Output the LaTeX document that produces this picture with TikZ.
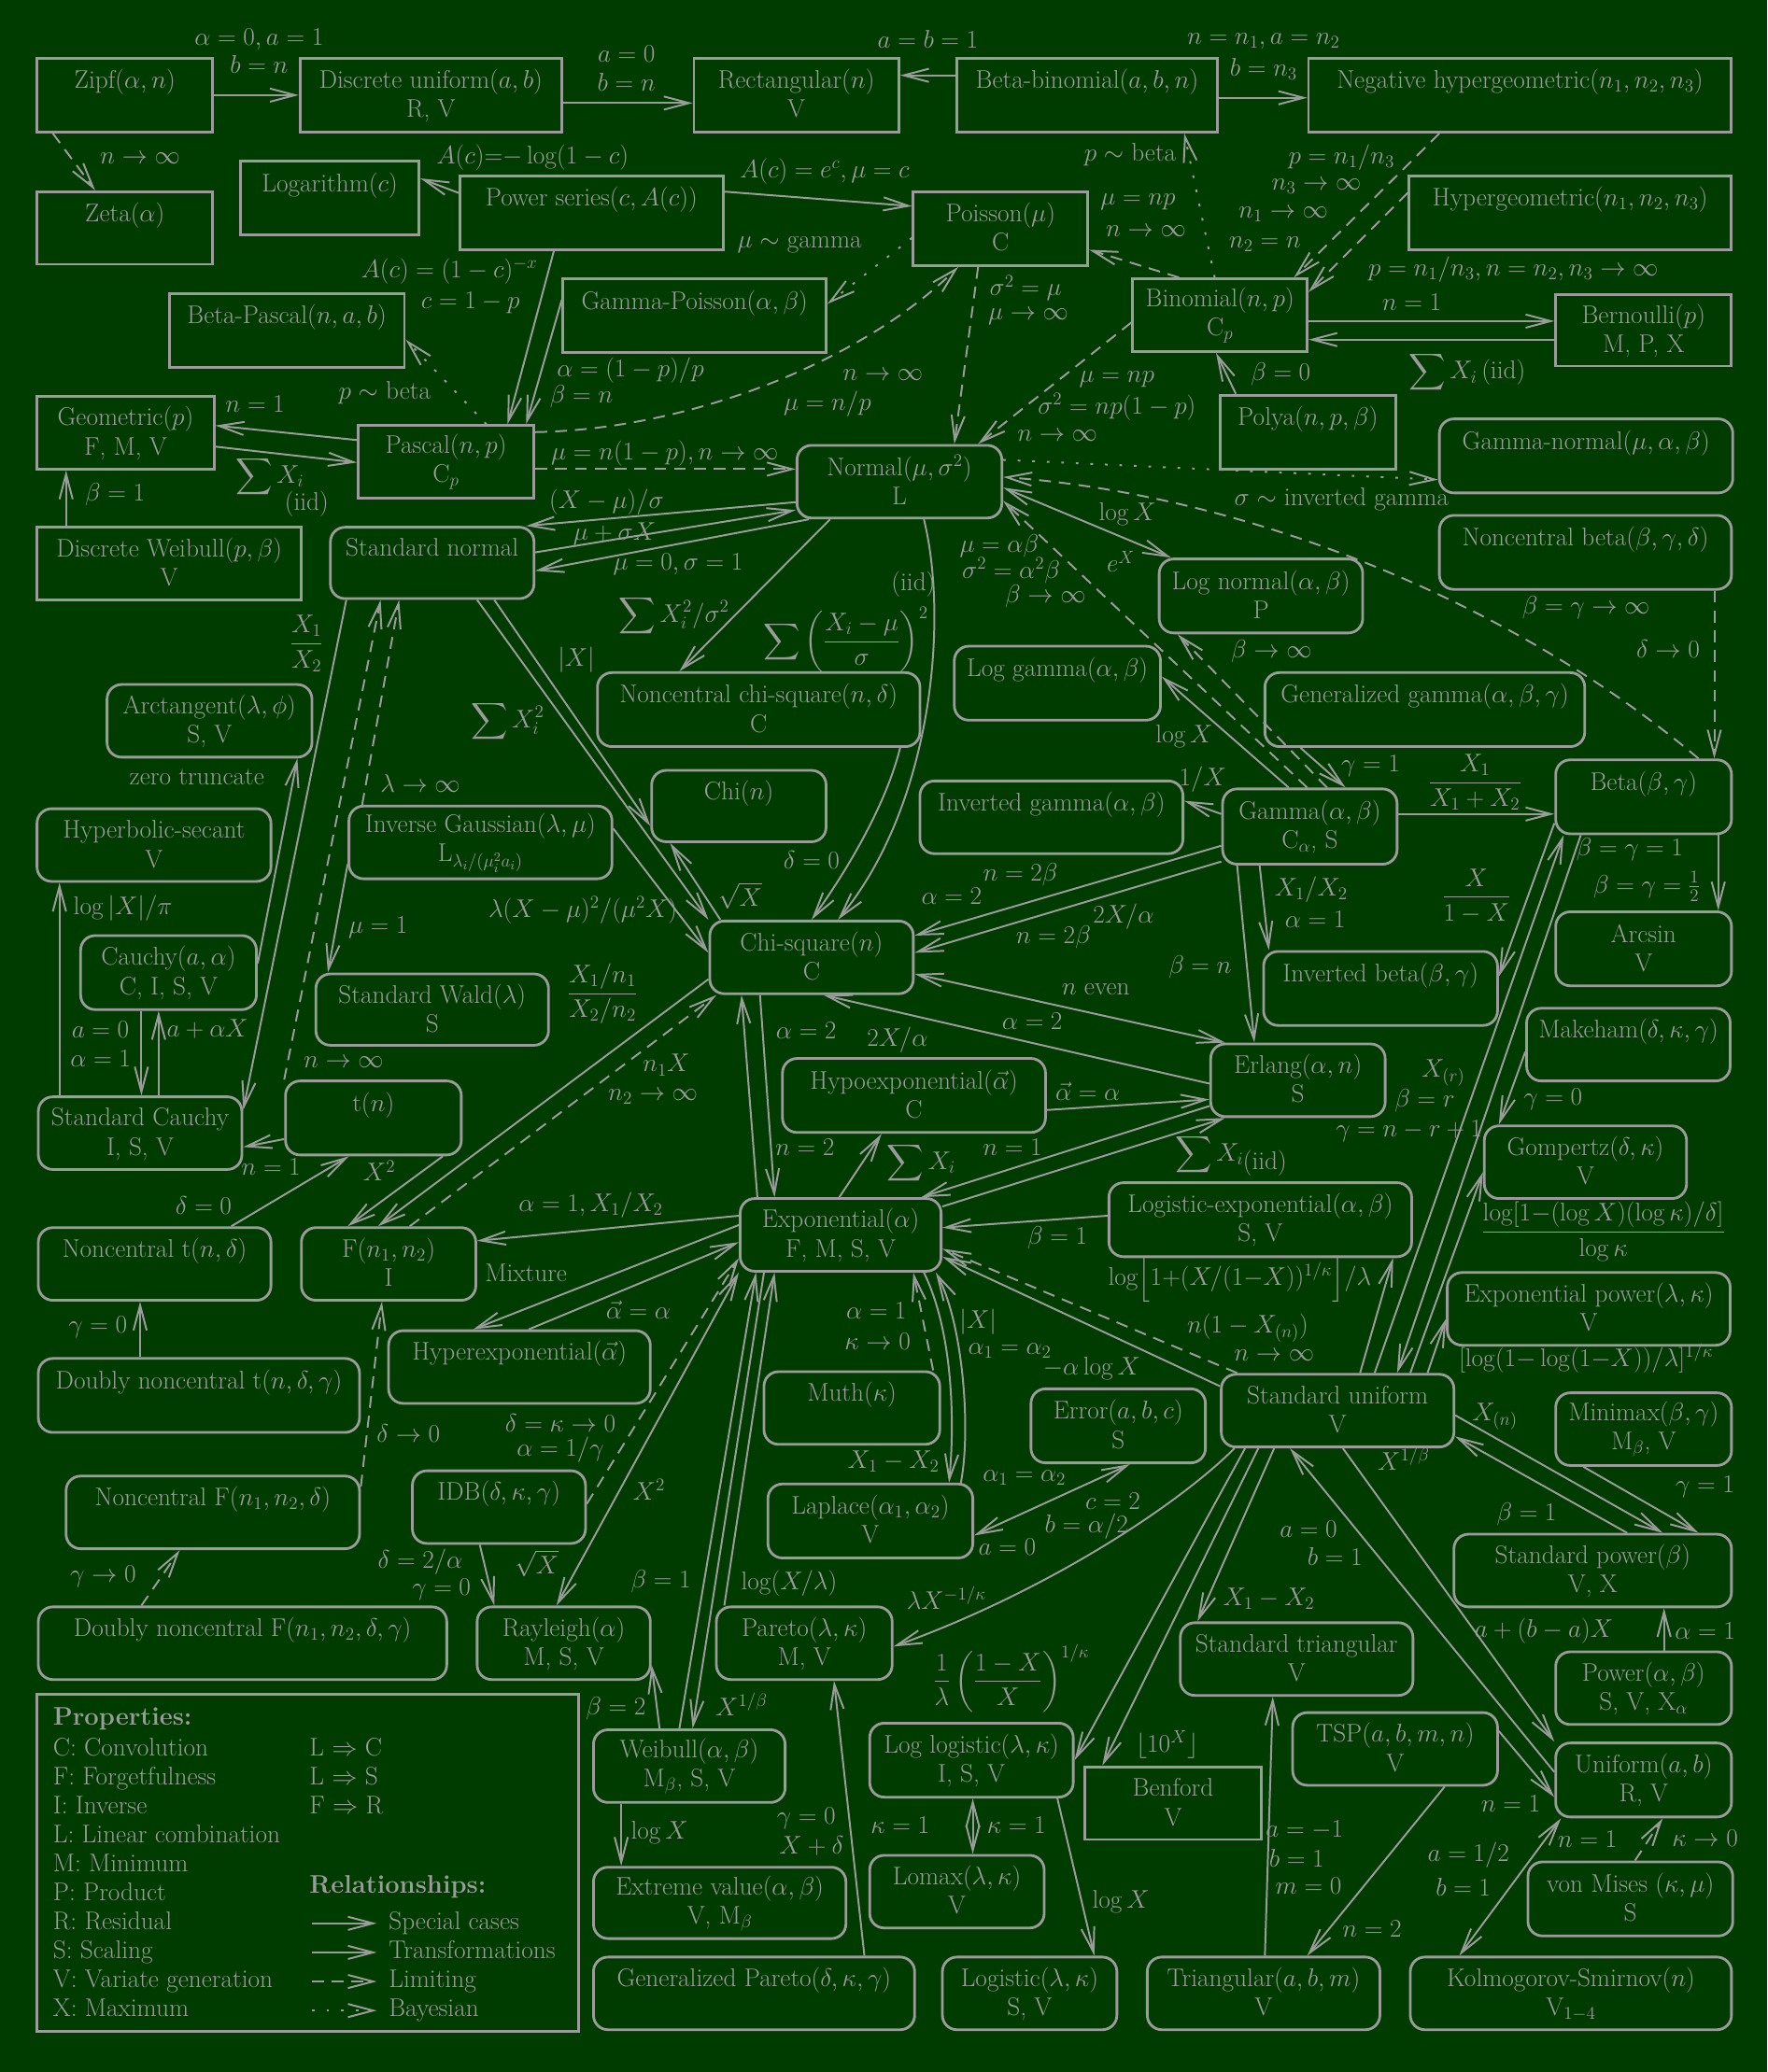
\documentclass[tikz,border=0pt]{standalone}
\usepackage{fix-cm}
\usepackage{amsmath,amssymb}
\usetikzlibrary{arrows.meta}
\definecolor{bg}{RGB}{0,60,0}
\definecolor{fg}{RGB}{155,155,155}
\newcommand\myfs{\fontsize{19.3}{22}\selectfont}
\newcommand\mkbox[8]{\node[#1, minimum width={(#5)-(#3)}, minimum height={(#6)-(#4)}] (#2) at ({((#3)+(#5))/2},{((#4)+(#6))/2}) {\rule{0pt}{15pt}#7\\#8\rule[-3pt]{0pt}{3pt}};}
\begin{document}
\begin{tikzpicture}[x=1pt,y=-1pt,font=\myfs,
  dbox/.style={draw=fg, line width=2pt, inner xsep=0pt, inner ysep=0pt, align=center, text=fg},
  cbox/.style={dbox, rounded corners=11pt},
  lab/.style={inner sep=0pt, text=fg},
  con/.style={draw=fg, line width=1.4pt, -{Straight Barb[length=19pt,width=10pt]}},
  bicon/.style={draw=fg, line width=1.4pt, {Straight Barb[length=19pt,width=10pt]}-{Straight Barb[length=19pt,width=10pt]}},
  lim/.style={con, dash pattern=on 9pt off 6pt},
  bay/.style={con, dash pattern=on 2pt off 9pt}]
\fill[bg] (0,0) rectangle (1337,1568);
\useasboundingbox (0,0) rectangle (1337,1568);
% ---------- discrete (sharp) boxes
\mkbox{dbox}{zipf}{28}{44}{161}{100}{Zipf$(\alpha,n)$}{}
\mkbox{dbox}{dunif}{227}{44}{425}{100}{Discrete uniform$(a,b)$}{R, V}
\mkbox{dbox}{rect}{525}{44}{680}{100}{Rectangular$(n)$}{V}
\mkbox{dbox}{betabin}{724}{44}{921}{100}{Beta-binomial$(a,b,n)$}{}
\mkbox{dbox}{neghyp}{990}{44}{1310}{100}{Negative hypergeometric$(n_1,n_2,n_3)$}{}
\mkbox{dbox}{zeta}{28}{145}{161}{200}{Zeta$(\alpha)$}{}
\mkbox{dbox}{logar}{182}{122}{317}{178}{Logarithm$(c)$}{}
\mkbox{dbox}{powser}{348}{133}{547}{189}{Power series$(c,A(c))$}{}
\mkbox{dbox}{poisson}{691}{145}{823}{201}{Poisson$(\mu)$}{C}
\mkbox{dbox}{hyper}{1066}{133}{1310}{189}{Hypergeometric$(n_1,n_2,n_3)$}{}
\mkbox{dbox}{betapascal}{128}{222}{306}{278}{Beta-Pascal$(n,a,b)$}{}
\mkbox{dbox}{gampois}{426}{211}{625}{267}{Gamma-Poisson$(\alpha,\beta)$}{}
\mkbox{dbox}{binom}{857}{211}{989}{266}{Binomial$(n,p)$}{C$_p$}
\mkbox{dbox}{bern}{1177}{223}{1310}{277}{Bernoulli$(p)$}{M, P, X}
\mkbox{dbox}{geom}{28}{300}{162}{355}{Geometric$(p)$}{F, M, V}
\mkbox{dbox}{pascal}{271}{322}{404}{377}{Pascal$(n,p)$}{C$_p$}
\mkbox{dbox}{polya}{923}{299}{1056}{355}{Polya$(n,p,\beta)$}{}
\mkbox{dbox}{dweib}{28}{399}{228}{454}{Discrete Weibull$(p,\beta)$}{V}
\mkbox{dbox}{benford}{821}{1337}{954}{1392}{Benford}{V}
% ---------- continuous (rounded) boxes
\mkbox{cbox}{gamnorm}{1089}{317}{1311}{373}{Gamma-normal$(\mu,\alpha,\beta)$}{}
\mkbox{cbox}{stdnorm}{250}{399}{404}{453}{Standard normal}{}
\mkbox{cbox}{normal}{603}{337}{758}{392}{Normal$(\mu,\sigma^2)$}{L}
\mkbox{cbox}{ncbeta}{1089}{390}{1310}{446}{Noncentral beta$(\beta,\gamma,\delta)$}{}
\mkbox{cbox}{lognorm}{877}{423}{1031}{479}{Log normal$(\alpha,\beta)$}{P}
\mkbox{cbox}{arctan}{81}{518}{236}{573}{Arctangent$(\lambda,\phi)$}{S, V}
\mkbox{cbox}{ncchisq}{452}{509}{696}{565}{Noncentral chi-square$(n,\delta)$}{C}
\mkbox{cbox}{loggam}{722}{489}{878}{545}{Log gamma$(\alpha,\beta)$}{}
\mkbox{cbox}{gengam}{957}{509}{1199}{565}{Generalized gamma$(\alpha,\beta,\gamma)$}{}
\mkbox{cbox}{hypsec}{28}{612}{205}{667}{Hyperbolic-secant}{V}
\mkbox{cbox}{invgauss}{264}{610}{463}{665}{Inverse Gaussian$(\lambda,\mu)$}{L$_{\lambda_i/(\mu_i^2 a_i)}$}
\mkbox{cbox}{chi}{493}{583}{625}{637}{Chi$(n)$}{}
\mkbox{cbox}{invgam}{696}{591}{895}{646}{Inverted gamma$(\alpha,\beta)$}{}
\mkbox{cbox}{gamma}{925}{597}{1057}{654}{Gamma$(\alpha,\beta)$}{C$_\alpha$, S}
\mkbox{cbox}{beta}{1177}{575}{1310}{631}{Beta$(\beta,\gamma)$}{}
\mkbox{cbox}{cauchy}{61}{708}{194}{764}{Cauchy$(a,\alpha)$}{C, I, S, V}
\mkbox{cbox}{stdwald}{239}{737}{415}{791}{Standard Wald$(\lambda)$}{S}
\mkbox{cbox}{chisq}{537}{697}{691}{752}{Chi-square$(n)$}{C}
\mkbox{cbox}{invbeta}{956}{720}{1133}{776}{Inverted beta$(\beta,\gamma)$}{}
\mkbox{cbox}{arcsin}{1177}{690}{1310}{746}{Arcsin}{V}
\mkbox{cbox}{makeham}{1155}{763}{1309}{818}{Makeham$(\delta,\kappa,\gamma)$}{}
\mkbox{cbox}{stdcauchy}{29}{830}{183}{885}{Standard Cauchy}{I, S, V}
\mkbox{cbox}{tdist}{216}{818}{349}{874}{t$(n)$}{}
\mkbox{cbox}{hypoexp}{592}{801}{791}{857}{Hypoexponential$(\vec{\alpha})$}{C}
\mkbox{cbox}{erlang}{916}{790}{1048}{845}{Erlang$(\alpha,n)$}{S}
\mkbox{cbox}{gompertz}{1123}{852}{1276}{907}{Gompertz$(\delta,\kappa)$}{V}
\mkbox{cbox}{nct}{29}{929}{205}{984}{Noncentral t$(n,\delta)$}{}
\mkbox{cbox}{fdist}{228}{929}{360}{984}{F$(n_1,n_2)$}{I}
\mkbox{cbox}{expo}{560}{907}{712}{962}{Exponential$(\alpha)$}{F, M, S, V}
\mkbox{cbox}{logexp}{839}{895}{1068}{951}{Logistic-exponential$(\alpha,\beta)$}{S, V}
\mkbox{cbox}{dnct}{29}{1028}{272}{1084}{Doubly noncentral t$(n,\delta,\gamma)$}{}
\mkbox{cbox}{hyperexp}{294}{1007}{492}{1062}{Hyperexponential$(\vec{\alpha})$}{}
\mkbox{cbox}{muth}{578}{1038}{711}{1093}{Muth$(\kappa)$}{}
\mkbox{cbox}{error}{780}{1051}{912}{1107}{Error$(a,b,c)$}{S}
\mkbox{cbox}{exppow}{1095}{963}{1309}{1018}{Exponential power$(\lambda,\kappa)$}{V}
\mkbox{cbox}{stdunif}{924}{1040}{1100}{1095}{Standard uniform}{V}
\mkbox{cbox}{minimax}{1177}{1054}{1310}{1109}{Minimax$(\beta,\gamma)$}{M$_\beta$, V}
\mkbox{cbox}{ncf}{50}{1117}{272}{1172}{Noncentral F$(n_1,n_2,\delta)$}{}
\mkbox{cbox}{idb}{312}{1113}{443}{1168}{IDB$(\delta,\kappa,\gamma)$}{}
\mkbox{cbox}{laplace}{581}{1123}{736}{1179}{Laplace$(\alpha_1,\alpha_2)$}{V}
\mkbox{cbox}{stdpow}{1100}{1161}{1310}{1216}{Standard power$(\beta)$}{V, X}
\mkbox{cbox}{dncf}{29}{1216}{338}{1271}{Doubly noncentral F$(n_1,n_2,\delta,\gamma)$}{}
\mkbox{cbox}{rayleigh}{361}{1216}{492}{1271}{Rayleigh$(\alpha)$}{M, S, V}
\mkbox{cbox}{pareto}{542}{1216}{675}{1271}{Pareto$(\lambda,\kappa)$}{M, V}
\mkbox{cbox}{stdtri}{893}{1228}{1069}{1283}{Standard triangular}{V}
\mkbox{cbox}{power}{1177}{1250}{1310}{1305}{Power$(\alpha,\beta)$}{S, V, X$_\alpha$}
\mkbox{cbox}{weibull}{449}{1309}{594}{1364}{Weibull$(\alpha,\beta)$}{M$_\beta$, S, V}
\mkbox{cbox}{loglog}{658}{1304}{812}{1360}{Log logistic$(\lambda,\kappa)$}{I, S, V}
\mkbox{cbox}{tsp}{978}{1296}{1133}{1351}{TSP$(a,b,m,n)$}{V}
\mkbox{cbox}{unif}{1177}{1319}{1310}{1375}{Uniform$(a,b)$}{R, V}
\mkbox{cbox}{extval}{449}{1413}{640}{1467}{Extreme value$(\alpha,\beta)$}{V, M$_\beta$}
\mkbox{cbox}{lomax}{658}{1404}{790}{1459}{Lomax$(\lambda,\kappa)$}{V}
\mkbox{cbox}{vonmises}{1156}{1409}{1311}{1465}{von Mises $(\kappa,\mu)$}{S}
\mkbox{cbox}{genpareto}{449}{1481}{692}{1536}{Generalized Pareto$(\delta,\kappa,\gamma)$}{}
\mkbox{cbox}{logistic}{713}{1481}{845}{1536}{Logistic$(\lambda,\kappa)$}{S, V}
\mkbox{cbox}{triang}{868}{1481}{1044}{1536}{Triangular$(a,b,m)$}{V}
\mkbox{cbox}{ks}{1067}{1481}{1310}{1536}{Kolmogorov-Smirnov$(n)$}{V$_{1-4}$}
% ---------- connectors
\draw[con] (zipf.east |- 0,72) -- (dunif.west |- 0,72);
\draw[con] (dunif.east |- 0,78) -- (rect.west |- 0,78);
\draw[con] (betabin.west |- 0,57) -- (rect.east |- 0,57);
\draw[con] (betabin.east |- 0,74) -- (neghyp.west |- 0,74);
\draw[lim] (zipf.south -| 40,0) -- (zeta.north -| 72,0);
\draw[con] (powser.west |- 0,146) -- (logar.east |- 0,135);
\draw[con] (powser.east |- 0,145) -- (poisson.west |- 0,156);
\draw[con] (powser.south -| 419,0) -- (pascal.north -| 384,0);
\draw[con] (gampois.west |- 0,227) -- (pascal.north -| 398,0);
\draw[bay] (poisson.west |- 0,180) -- (gampois.east |- 0,230);
\draw[lim] (pascal.east |- 0,327) .. controls (520,325) and (650,275) .. (poisson.south -| 725,0);
\draw[lim] (pascal.east |- 0,355) -- (normal.west |- 0,355);
\draw[con] (pascal.west |- 0,333) -- (geom.east |- 0,322);
\draw[con] (geom.east |- 0,338) -- (pascal.west |- 0,350);
\draw[bay] (pascal.north -| 368,0) -- (betapascal.east |- 0,257);
\draw[con] (dweib.north -| 50,0) -- (geom.south -| 50,0);
\draw[lim] (binom.north -| 892,0) -- (poisson.east |- 0,189);
\draw[bay] (binom.north -| 919,0) -- (betabin.south -| 896,0);
\draw[lim] (neghyp.south -| 1089,0) -- (binom.north -| 979,0);
\draw[lim] (hyper.west |- 0,146) -- (binom.east |- 0,221);
\draw[con] (binom.east |- 0,243) -- (bern.west |- 0,243);
\draw[con] (bern.west |- 0,257) -- (binom.east |- 0,257);
\draw[con] (polya.north -| 935,0) -- (binom.south -| 920,0);
\draw[lim] (binom.west |- 0,244) -- (normal.north -| 740,0);
\draw[lim] (poisson.south -| 740,0) -- (normal.north -| 722,0);
\draw[bay] (normal.east |- 0,348) -- (gamnorm.west |- 0,363);
\draw[lim] (beta.north -| 1285,0) .. controls (1150,460) and (950,375) .. (normal.east |- 0,361);
\draw[lim] (ncbeta.south -| 1297,0) -- (beta.north -| 1297,0);
\draw[bicon] (normal.east |- 0,369) -- (lognorm.north -| 886,0);
\draw[lim] (gamma.north -| 989,0) -- (normal.east |- 0,379);
\draw[lim] (gamma.north -| 1004,0) -- (lognorm.south -| 891,0);
\draw[con] (gamma.north -| 975,0) -- (loggam.east |- 0,512);
\draw[con] (gengam.south -| 984,0) -- (gamma.north -| 1018,0);
\draw[con] (gamma.west |- 0,616) -- (invgam.east |- 0,606);
\draw[con] (gamma.east |- 0,616) -- (beta.west |- 0,616);
\draw[con] (beta.south -| 1300,0) -- (arcsin.north -| 1300,0);
\draw[con] (gamma.south -| 953,0) -- (invbeta.north -| 960,0);
\draw[con] (beta.west |- 0,623) -- (invbeta.east |- 0,739);
\draw[con] (gamma.south -| 936,0) -- (erlang.north -| 949,0);
\draw[con] (gamma.west |- 0,640) -- (chisq.east |- 0,708);
\draw[con] (gamma.west |- 0,652) -- (chisq.east |- 0,721);
\draw[bicon] (chisq.east |- 0,737) -- (erlang.north -| 927,0);
\draw[con] (erlang.west |- 0,820) -- (chisq.south -| 623,0);
\draw[con] (hypoexp.east |- 0,840) -- (erlang.west |- 0,832);
\draw[con] (erlang.west |- 0,837) -- (expo.north -| 697,0);
\draw[con] (expo.east |- 0,913) -- (erlang.south -| 927,0);
\draw[con] (expo.north -| 635,0) -- (hypoexp.south -| 667,0);
\draw[con] (expo.north -| 573,0) -- (chisq.south -| 561,0);
\draw[con] (chisq.south -| 575,0) -- (expo.north -| 586,0);
\draw[con] (expo.west |- 0,920) -- (fdist.east |- 0,939);
\draw[con] (expo.west |- 0,927) -- (hyperexp.north -| 358,0);
\draw[con] (hyperexp.north -| 400,0) -- (expo.west |- 0,940);
\draw[lim] (idb.east |- 0,1138) -- (expo.west |- 0,952);
\draw[bicon] (rayleigh.north -| 421,0) -- (expo.south west);
\draw[con] (weibull.north -| 514,0) -- (expo.south -| 572,0);
\draw[con] (expo.south -| 578,0) -- (weibull.north -| 524,0);
\draw[con] (pareto.north -| 548,0) -- (expo.south -| 586,0);
\draw[lim] (muth.north -| 706,0) -- (expo.south -| 691,0);
\draw[con] (expo.south -| 699,0) .. controls (722,1010) and (722,1080) .. (laplace.north -| 718,0);
\draw[con] (laplace.north -| 727,0) .. controls (735,1080) and (728,1000) .. (expo.south -| 708,0);
\draw[bicon] (error.south -| 855,0) -- (laplace.east |- 0,1162);
\draw[con] (stdunif.west |- 0,1049) -- (expo.east |- 0,951);
\draw[lim] (stdunif.north -| 936,0) -- (expo.east |- 0,945);
\draw[con] (logexp.west |- 0,920) -- (expo.east |- 0,929);
\draw[con] (stdunif.north -| 1029,0) -- (logexp.south -| 1054,0);
\draw[con] (stdunif.north -| 1040,0) -- (beta.south -| 1183,0);
\draw[con] (beta.south -| 1196,0) -- (stdunif.north -| 1057,0);
\draw[con] (makeham.west |- 0,796) -- (gompertz.north -| 1134,0);
\draw[con] (stdunif.north -| 1067,0) -- (gompertz.west |- 0,887);
\draw[con] (stdunif.north -| 1080,0) -- (exppow.west |- 0,998);
\draw[con] (stdunif.east |- 0,1071) -- (stdpow.north -| 1258,0);
\draw[con] (stdpow.north -| 1231,0) -- (stdunif.east |- 0,1087);
\draw[con] (minimax.south -| 1198,0) -- (stdpow.north -| 1285,0);
\draw[con] (power.north -| 1259,0) -- (stdpow.south -| 1259,0);
\draw[con] (stdunif.south -| 1016,0) -- (unif.north west);
\draw[con] (unif.west |- 0,1341) -- (stdunif.south -| 976,0);
\draw[con] (tsp.east |- 0,1310) -- (unif.west |- 0,1360);
\draw[con] (tsp.south -| 1093,0) -- (triang.north -| 989,0);
\draw[con] (triang.north -| 957,0) -- (stdtri.south -| 963,0);
\draw[con] (stdunif.south -| 964,0) -- (stdtri.north -| 906,0);
\draw[con] (stdunif.south -| 942,0) -- (loglog.east |- 0,1332);
\draw[con] (stdunif.south -| 952,0) -- (benford.north -| 834,0);
\draw[con] (stdunif.south -| 934,0) .. controls (890,1140) and (790,1205) .. (pareto.east |- 0,1246);
\draw[bicon] (loglog.south -| 736,0) -- (lomax.north -| 736,0);
\draw[con] (loglog.south -| 800,0) -- (logistic.north -| 828,0);
\draw[con] (weibull.south -| 470,0) -- (extval.north -| 470,0);
\draw[con] (weibull.north -| 499,0) -- (rayleigh.east |- 0,1260);
\draw[con] (genpareto.north -| 654,0) -- (pareto.south -| 631,0);
\draw[con] (idb.south -| 363,0) -- (rayleigh.north -| 374,0);
\draw[lim] (ncf.east |- 0,1125) -- (fdist.south -| 289,0);
\draw[lim] (dncf.north -| 107,0) -- (ncf.south -| 136,0);
\draw[con] (dnct.north -| 106,0) -- (nct.south -| 106,0);
\draw[con] (nct.north -| 175,0) -- (tdist.south -| 264,0);
\draw[con] (tdist.west |- 0,862) -- (stdcauchy.east |- 0,868);
\draw[con] (tdist.south -| 335,0) -- (fdist.north -| 263,0);
\draw[con] (chisq.west |- 0,741) -- (fdist.north -| 286,0);
\draw[lim] (fdist.north -| 310,0) -- (chisq.south -| 542,0);
\draw[con] (normal.south -| 699,0) .. controls (718,470) and (705,610) .. (chisq.north -| 634,0);
\draw[con] (ncchisq.south -| 681,0) .. controls (670,610) and (640,660) .. (chisq.north -| 614,0);
\draw[con] (normal.south -| 628,0) -- (ncchisq.north -| 514,0);
\draw[con] (stdnorm.south -| 374,0) -- (chi.west |- 0,625);
\draw[con] (stdnorm.south -| 361,0) -- (chisq.north west);
\draw[con] (chisq.north -| 545,0) -- (chi.south -| 507,0);
\draw[con] (normal.west |- 0,380) -- (stdnorm.north -| 398,0);
\draw[con] (stdnorm.east |- 0,418) -- (normal.west |- 0,386);
\draw[con] (normal.south -| 612,0) -- (stdnorm.east |- 0,432);
\draw[con] (stdnorm.south -| 262,0) -- (stdcauchy.east |- 0,840);
\draw[con] (cauchy.east |- 0,729) -- (arctan.south -| 225,0);
\draw[con] (stdcauchy.north -| 45,0) -- (hypsec.south -| 45,0);
\draw[con] (cauchy.south -| 107,0) -- (stdcauchy.north -| 107,0);
\draw[con] (stdcauchy.north -| 120,0) -- (cauchy.south -| 120,0);
\draw[lim] (tdist.north west) -- (stdnorm.south -| 288,0);
\draw[lim] (invgauss.north -| 274,0) -- (stdnorm.south -| 302,0);
\draw[con] (invgauss.west |- 0,654) -- (stdwald.north -| 248,0);
\draw[con] (invgauss.east |- 0,627) -- (chisq.west |- 0,721);
\draw[bicon] (ks.north -| 1104,0) -- (unif.south -| 1181,0);
\draw[lim] (vonmises.north -| 1237,0) -- (unif.south -| 1258,0);
% ---------- labels
\node[lab] (l1) at (196,30) {$\alpha=0, a=1$};
\node[lab] (l2) at (196,49) {$b=n$};
\node[lab] (l3) at (474,41) {$a=0$};
\node[lab] (l4) at (474,62) {$b=n$};
\node[lab] (l5) at (702,30) {$a=b=1$};
\node[lab] (l6) at (956,31) {$n=n_1, a=n_2$};
\node[lab] (l7) at (956,52) {$b=n_3$};
\node[lab] (l8) at (106,120) {$n\to\infty$};
\node[lab] (l9) at (403,119) {$A(c){=}{-}\log(1-c)$};
\node[lab] (l10) at (624,130) {$A(c)=e^c,\mu=c$};
\node[lab] (l11) at (340,205) {$A(c)=(1-c)^{-x}$};
\node[lab] (l12) at (356,229) {$c=1-p$};
\node[lab] (l13) at (477,280) {$\alpha=(1-p)/p$};
\node[lab] (l14) at (440,300) {$\beta=n$};
\node[lab] (l15) at (605,185) {$\mu\sim$ gamma};
\node[lab] (l16) at (668,284) {$n\to\infty$};
\node[lab] (l17) at (626,306) {$\mu=n/p$};
\node[lab] (l18) at (503,343) {$\mu=n(1-p), n\to\infty$};
\node[lab] (l19) at (193,306) {$n=1$};
\node[lab] (l20) at (204,361) {$\displaystyle\sum X_i$};
\node[lab] (l21) at (232,381) {(iid)};
\node[lab] (l22) at (291,297) {$p\sim$ beta};
\node[lab] (l23) at (87,374) {$\beta=1$};
\node[lab] (l24) at (861,153) {$\mu=np$};
\node[lab] (l25) at (867,175) {$n\to\infty$};
\node[lab] (l26) at (855,117) {$p\sim$ beta};
\node[lab] (l27) at (1015,119) {$p=n_1/n_3$};
\node[lab] (l28) at (996,141) {$n_3\to\infty$};
\node[lab] (l29) at (971,162) {$n_1\to\infty$};
\node[lab] (l30) at (957,185) {$n_2=n$};
\node[lab] (l31) at (1145,204) {$p=n_1/n_3, n=n_2, n_3\to\infty$};
\node[lab] (l32) at (1068,229) {$n=1$};
\node[lab] (l33) at (1110,282) {$\displaystyle\sum X_i\,$(iid)};
\node[lab] (l34) at (969,283) {$\beta=0$};
\node[lab] (l35) at (845,287) {$\mu=np$};
\node[lab] (l36) at (845,308) {$\sigma^2=np(1-p)$};
\node[lab] (l37) at (800,330) {$n\to\infty$};
\node[lab] (l38) at (776,218) {$\sigma^2=\mu$};
\node[lab] (l39) at (778,240) {$\mu\to\infty$};
\node[lab] (l40) at (1015,378) {$\sigma\sim$ inverted gamma};
\node[lab] (l41) at (1200,460) {$\beta=\gamma\to\infty$};
\node[lab] (l42) at (1262,491) {$\delta\to0$};
\node[lab] (l43) at (853,389) {$\log X$};
\node[lab] (l44) at (848,425) {$e^X$};
\node[lab] (l45) at (756,413) {$\mu=\alpha\beta$};
\node[lab] (l46) at (765,432) {$\sigma^2=\alpha^2\beta$};
\node[lab] (l47) at (791,451) {$\beta\to\infty$};
\node[lab] (l48) at (962,493) {$\beta\to\infty$};
\node[lab] (l49) at (896,557) {$\log X$};
\node[lab] (l50) at (1037,580) {$\gamma=1$};
\node[lab] (l51) at (910,590) {$1/X$};
\node[lab] (l52) at (1116,592) {$\dfrac{X_1}{X_1+X_2}$};
\node[lab] (l53) at (1233,643) {$\beta=\gamma=1$};
\node[lab] (l54) at (1246,671) {$\beta=\gamma=\frac12$};
\node[lab] (l55) at (992,673) {$X_1/X_2$};
\node[lab] (l56) at (995,696) {$\alpha=1$};
\node[lab] (l57) at (1117,678) {$\dfrac{X}{1-X}$};
\node[lab] (l58) at (908,732) {$\beta=n$};
\node[lab] (l59) at (720,678) {$\alpha=2$};
\node[lab] (l60) at (772,662) {$n=2\beta$};
\node[lab] (l61) at (850,694) {$2X/\alpha$};
\node[lab] (l62) at (797,709) {$n=2\beta$};
\node[lab] (l63) at (829,749) {$n$ even};
\node[lab] (l64) at (781,773) {$\alpha=2$};
\node[lab] (l65) at (823,826) {$\vec{\alpha}=\alpha$};
\node[lab] (l66) at (766,868) {$n=1$};
\node[lab] (l67) at (915,874) {$\displaystyle\sum X_i$};
\node[lab] (l68) at (957,880) {(iid)};
\node[lab] (l69) at (697,880) {$\displaystyle\sum X_i$};
\node[lab] (l70) at (610,780) {$\alpha=2$};
\node[lab] (l71) at (609,868) {$n=2$};
\node[lab] (l72) at (679,787) {$2X/\alpha$};
\node[lab] (l73) at (447,912) {$\alpha=1, X_1/X_2$};
\node[lab] (l74) at (398,963) {Mixture};
\node[lab] (l75) at (483,991) {$\vec{\alpha}=\alpha$};
\node[lab] (l76) at (424,1077) {$\delta=\kappa\to0$};
\node[lab] (l77) at (424,1097) {$\alpha=1/\gamma$};
\node[lab] (l78) at (491,1127) {$X^2$};
\node[lab] (l79) at (406,1183) {$\sqrt{X}$};
\node[lab] (l80) at (500,1197) {$\beta=1$};
\node[lab] (l81) at (561,1290) {$X^{1/\beta}$};
\node[lab] (l82) at (597,1198) {$\log(X/\lambda)$};
\node[lab] (l83) at (663,992) {$\alpha=1$};
\node[lab] (l84) at (664,1015) {$\kappa\to0$};
\node[lab] (l85) at (676,1106) {$X_1-X_2$};
\node[lab] (l86) at (740,1000) {$|X|$};
\node[lab] (l87) at (764,1022) {$\alpha_1=\alpha_2$};
\node[lab] (l88) at (775,1118) {$\alpha_1=\alpha_2$};
\node[lab] (l89) at (842,1136) {$c=2$};
\node[lab] (l90) at (822,1155) {$b=\alpha/2$};
\node[lab] (l91) at (762,1171) {$a=0$};
\node[lab] (l92) at (826,1036) {$-\alpha\log X$};
\node[lab] (l93) at (944,1005) {$n(1-X_{(n)})$};
\node[lab] (l94) at (964,1026) {$n\to\infty$};
\node[lab] (l95) at (800,937) {$\beta=1$};
\node[lab] (l96) at (938,968) {$\log\Bigl[1{+}(X/(1{-}X))^{1/\kappa}\Bigr]/\lambda$};
\node[lab] (l97) at (1092,812) {$X_{(r)}$};
\node[lab] (l98) at (1078,833) {$\beta=r$};
\node[lab] (l99) at (1066,856) {$\gamma=n-r+1$};
\node[lab] (l100) at (1175,832) {$\gamma=0$};
\node[lab] (l101) at (1213,932) {$\dfrac{\log[1{-}(\log X)(\log\kappa)/\delta]}{\log\kappa}$};
\node[lab] (l102) at (1200,1028) {$[\log(1{-}\log(1{-}X))/\lambda]^{1/\kappa}$};
\node[lab] (l103) at (1131,1072) {$X_{(n)}$};
\node[lab] (l104) at (1062,1104) {$X^{1/\beta}$};
\node[lab] (l105) at (1155,1146) {$\beta=1$};
\node[lab] (l106) at (1290,1125) {$\gamma=1$};
\node[lab] (l107) at (1290,1234) {$\alpha=1$};
\node[lab] (l108) at (1168,1234) {$a+(b-a)X$};
\node[lab] (l109) at (990,1157) {$a=0$};
\node[lab] (l110) at (1010,1178) {$b=1$};
\node[lab] (l111) at (1143,1365) {$n=1$};
\node[lab] (l112) at (1038,1460) {$n=2$};
\node[lab] (l113) at (987,1385) {$a=-1$};
\node[lab] (l114) at (981,1406) {$b=1$};
\node[lab] (l115) at (990,1427) {$m=0$};
\node[lab] (l116) at (960,1210) {$X_1-X_2$};
\node[lab] (l117) at (765,1270) {$\dfrac{1}{\lambda}\left(\dfrac{1-X}{X}\right)^{1/\kappa}$};
\node[lab] (l118) at (883,1320) {$\lfloor 10^X\rfloor$};
\node[lab] (l119) at (716,1209) {$\lambda X^{-1/\kappa}$};
\node[lab] (l120) at (681,1381) {$\kappa=1$};
\node[lab] (l121) at (769,1381) {$\kappa=1$};
\node[lab] (l122) at (848,1439) {$\log X$};
\node[lab] (l123) at (499,1387) {$\log X$};
\node[lab] (l124) at (466,1293) {$\beta=2$};
\node[lab] (l125) at (610,1376) {$\gamma=0$};
\node[lab] (l126) at (614,1397) {$X+\delta$};
\node[lab] (l127) at (318,1182) {$\delta=2/\alpha$};
\node[lab] (l128) at (334,1203) {$\gamma=0$};
\node[lab] (l129) at (309,1085) {$\delta\to0$};
\node[lab] (l130) at (78,1193) {$\gamma\to0$};
\node[lab] (l131) at (74,1004) {$\gamma=0$};
\node[lab] (l132) at (154,912) {$\delta=0$};
\node[lab] (l133) at (205,883) {$n=1$};
\node[lab] (l134) at (287,886) {$X^2$};
\node[lab] (l135) at (456,752) {$\dfrac{X_1/n_1}{X_2/n_2}$};
\node[lab] (l136) at (504,806) {$n_1X$};
\node[lab] (l137) at (494,830) {$n_2\to\infty$};
\node[lab] (l138) at (691,442) {(iid)};
\node[lab] (l139) at (640,484) {$\displaystyle\sum\left(\frac{X_i-\mu}{\sigma}\right)^2$};
\node[lab] (l140) at (614,651) {$\delta=0$};
\node[lab] (l141) at (510,466) {$\displaystyle\sum X_i^2/\sigma^2$};
\node[lab] (l142) at (436,499) {$|X|$};
\node[lab] (l143) at (384,546) {$\displaystyle\sum X_i^2$};
\node[lab] (l144) at (560,678) {$\sqrt{X}$};
\node[lab] (l145) at (459,380) {$(X-\mu)/\sigma$};
\node[lab] (l146) at (465,404) {$\mu+\sigma X$};
\node[lab] (l147) at (513,427) {$\mu=0,\sigma=1$};
\node[lab] (l148) at (232,487) {$\dfrac{X_1}{X_2}$};
\node[lab] (l149) at (149,588) {zero truncate};
\node[lab] (l150) at (93,687) {$\log|X|/\pi$};
\node[lab] (l151) at (76,779) {$a=0$};
\node[lab] (l152) at (76,801) {$\alpha=1$};
\node[lab] (l153) at (157,779) {$a+\alpha X$};
\node[lab] (l154) at (260,804) {$n\to\infty$};
\node[lab] (l155) at (318,593) {$\lambda\to\infty$};
\node[lab] (l156) at (286,702) {$\mu=1$};
\node[lab] (l157) at (441,689) {$\lambda(X-\mu)^2/(\mu^2X)$};
\node[lab] (l158) at (1201,1392) {$n=1$};
\node[lab] (l159) at (1111,1404) {$a=1/2$};
\node[lab] (l160) at (1107,1428) {$b=1$};
\node[lab] (l161) at (1290,1391) {$\kappa\to0$};
% ---------- legend
\node[dbox, minimum width=410, minimum height=255] (legend) at (233,1409.5) {};
\node[lab, anchor=base west] (p0) at (40,1305.5) {\textbf{Properties:}};
\node[lab, anchor=base west] (p1) at (40,1328.5) {C: Convolution};
\node[lab, anchor=base west] (p2) at (40,1350.4) {F: Forgetfulness};
\node[lab, anchor=base west] (p3) at (40,1372.3) {I: Inverse};
\node[lab, anchor=base west] (p4) at (40,1394.2) {L: Linear combination};
\node[lab, anchor=base west] (p5) at (40,1416.1) {M: Minimum};
\node[lab, anchor=base west] (p6) at (40,1438) {P: Product};
\node[lab, anchor=base west] (p7) at (40,1459.9) {R: Residual};
\node[lab, anchor=base west] (p8) at (40,1481.8) {S: Scaling};
\node[lab, anchor=base west] (p9) at (40,1503.7) {V: Variate generation};
\node[lab, anchor=base west] (p10) at (40,1525.6) {X: Maximum};
\node[lab, anchor=base west] (q1) at (234,1328.5) {L $\Rightarrow$ C};
\node[lab, anchor=base west] (q2) at (234,1350.4) {L $\Rightarrow$ S};
\node[lab, anchor=base west] (q3) at (234,1372.3) {F $\Rightarrow$ R};
\node[lab, anchor=base west] (r0) at (234,1432.5) {\textbf{Relationships:}};
\node[lab, anchor=base west] (r1) at (294,1459.9) {Special cases};
\node[lab, anchor=base west] (r2) at (294,1481.8) {Transformations};
\node[lab, anchor=base west] (r3) at (294,1503.7) {Limiting};
\node[lab, anchor=base west] (r4) at (294,1525.6) {Bayesian};
\coordinate (a1) at (236,1455.5); \coordinate (b1) at (285,1455.5);
\coordinate (a2) at (236,1477.5); \coordinate (b2) at (285,1477.5);
\coordinate (a3) at (236,1499.5); \coordinate (b3) at (285,1499.5);
\coordinate (a4) at (236,1521.5); \coordinate (b4) at (285,1521.5);
\draw[con] (a1) -- (b1);
\draw[con] (a2) -- (b2);
\draw[lim] (a3) -- (b3);
\draw[bay] (a4) -- (b4);
\end{tikzpicture}
\end{document}
